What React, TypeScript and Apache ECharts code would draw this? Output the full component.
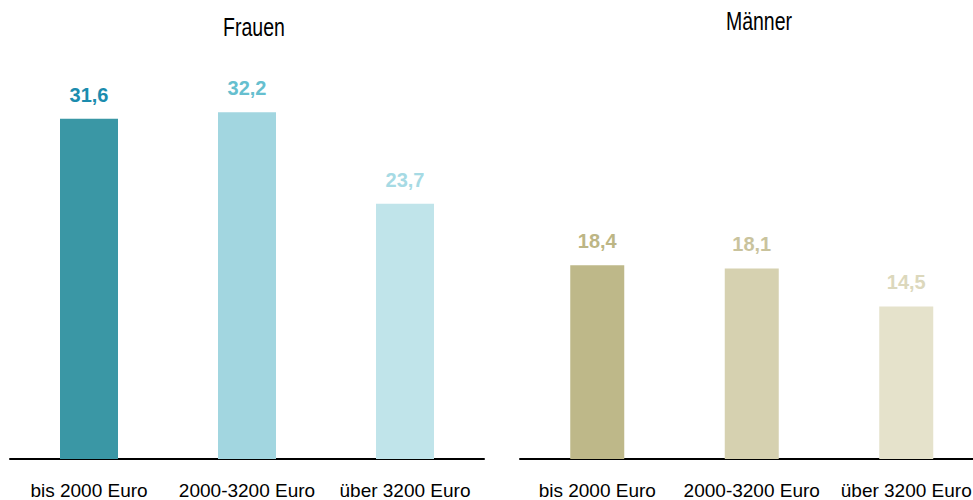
import React, { useEffect, useRef } from "react";
import * as echarts from "echarts";

const categories = ["bis 2000 Euro", "2000-3200 Euro", "über 3200 Euro"];
const frauenValues = [31.6, 32.2, 23.7];
const maennerValues = [18.4, 18.1, 14.5];
const frauenBarColors = ["#3A97A5", "#A2D6E0", "#C0E4EA"];
const frauenLabelColors = ["#1B8CAE", "#66BFCF", "#A6DAE4"];
const maennerBarColors = ["#BEB889", "#D6D1B0", "#E5E2CB"];
const maennerLabelColors = ["#BDB685", "#C9C39D", "#DCD8BC"];
const titles = ["Frauen", "Männer"];

const fmt = (v: number) => v.toFixed(1).replace(".", ",");

export default function App() {
  const ref = useRef<HTMLDivElement>(null);
  useEffect(() => {
    if (!ref.current) return;
    const chart = echarts.init(ref.current, null, { renderer: "svg" });
    const font = "'Liberation Sans', Arial, sans-serif";
    const mk = (vals: number[], bar: string[], lab: string[], idx: number, bw: number) => ({
      type: "bar",
      xAxisIndex: idx,
      yAxisIndex: idx,
      barWidth: bw,
      data: vals.map((v, i) => ({
        value: v,
        itemStyle: { color: bar[i] },
        label: { color: lab[i] },
      })),
      label: {
        show: true,
        position: "top",
        distance: 14,
        formatter: (p: any) => fmt(p.value),
        fontFamily: font,
        fontWeight: "bold",
        fontSize: 20,
      },
    });
    const axisX = (idx: number) => ({
      type: "category",
      gridIndex: idx,
      data: categories,
      axisLine: { lineStyle: { color: "#000", width: 2 } },
      axisTick: { show: false },
      axisLabel: {
        color: "#000",
        fontFamily: font,
        fontSize: 19,
        margin: 22,
        interval: 0,
      },
    });
    const axisY = (idx: number) => ({
      type: "value",
      gridIndex: idx,
      min: 0,
      max: 40,
      show: false,
      splitLine: { show: false },
    });
    const titleText = (text: string, x: number, y: number) => ({
      type: "text",
      x,
      y,
      scaleX: 0.78,
      style: {
        text,
        fill: "#000",
        font: "normal 25px 'Liberation Sans', Arial, sans-serif",
        textAlign: "center",
        textVerticalAlign: "middle",
      },
    });
    chart.setOption({
      animation: false,
      backgroundColor: "#fff",
      graphic: [titleText(titles[0], 254, 28), titleText(titles[1], 759, 22)],
      grid: [
        { left: 10, width: 474, top: 28.4, height: 431.6 },
        { left: 520, width: 463.5, top: 38, height: 422 },
      ],
      xAxis: [axisX(0), axisX(1)],
      yAxis: [axisY(0), axisY(1)],
      series: [
        mk(frauenValues, frauenBarColors, frauenLabelColors, 0, 58),
        mk(maennerValues, maennerBarColors, maennerLabelColors, 1, 54),
      ],
    });
    return () => chart.dispose();
  }, []);
  return (
    <div style={{ position: "absolute", left: 0, top: 0, width: 973, height: 500, overflow: "hidden" }}>
      <div ref={ref} style={{ width: 1000, height: 500 }} />
    </div>
  );
}
